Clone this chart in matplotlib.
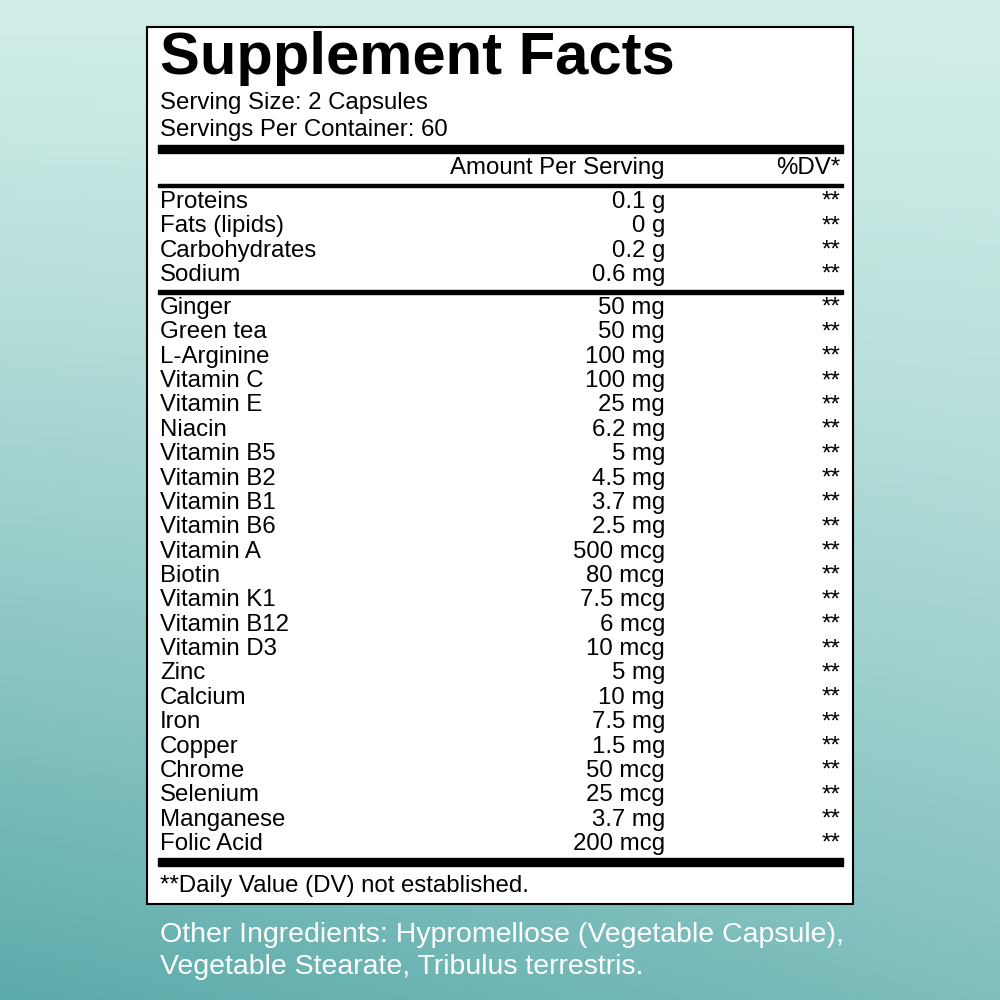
import matplotlib
matplotlib.use("Agg")
import matplotlib.pyplot as plt
import numpy as np

title = "Supplement Facts"
serving = ["Serving Size: 2 Capsules", "Servings Per Container: 60"]
macro_names = ["Proteins", "Fats (lipids)", "Carbohydrates", "Sodium"]
macro_amounts = ["0.1 g", "0 g", "0.2 g", "0.6 mg"]
ing_names = ["Ginger", "Green tea", "L-Arginine", "Vitamin C", "Vitamin E", "Niacin",
             "Vitamin B5", "Vitamin B2", "Vitamin B1", "Vitamin B6", "Vitamin A", "Biotin",
             "Vitamin K1", "Vitamin B12", "Vitamin D3", "Zinc", "Calcium", "Iron", "Copper",
             "Chrome", "Selenium", "Manganese", "Folic Acid"]
ing_amounts = ["50 mg", "50 mg", "100 mg", "100 mg", "25 mg", "6.2 mg", "5 mg", "4.5 mg",
               "3.7 mg", "2.5 mg", "500 mcg", "80 mcg", "7.5 mcg", "6 mcg", "10 mcg", "5 mg",
               "10 mg", "7.5 mg", "1.5 mg", "50 mcg", "25 mcg", "3.7 mg", "200 mcg"]
footnote = "**Daily Value (DV) not established."
other = ["Other Ingredients: Hypromellose (Vegetable Capsule),",
         "Vegetable Stearate, Tribulus terrestris."]

plt.rcParams['font.family'] = ['Liberation Sans', 'DejaVu Sans']
fig = plt.figure(figsize=(10, 10), dpi=100)
ax = fig.add_axes([0, 0, 1, 1])
ax.set_xlim(0, 1000); ax.set_ylim(1000, 0); ax.axis('off')

# background gradient
yy, xx = np.mgrid[0:1:200j, 0:1:200j]
c1 = np.array([0.82, 0.93, 0.91]); c2 = np.array([0.36, 0.67, 0.67])
t = np.clip(0.7 * yy ** 1.3 + 0.3 * (1 - xx) * yy, 0, 1)[..., None]
img = c1 * (1 - t) + c2 * t
ax.imshow(img, extent=[0, 1000, 1000, 0], aspect='auto', zorder=0)

ax.add_patch(plt.Rectangle((147, 27), 706, 877, facecolor='white', edgecolor='black', lw=1.5, zorder=1))

L, R1, R2 = 160, 665, 840
fs = 17.3
ax.text(L, 58, title, fontsize=43, fontweight='bold', va='center', ha='left', zorder=2)
for i, s in enumerate(serving):
    ax.text(L, 103 + 27 * i, s, fontsize=fs, va='center', zorder=2)

def bar(y, h):
    ax.add_patch(plt.Rectangle((158, y - h / 2), 685, h, color='black', zorder=2))

bar(149, 8)
ax.text(R1, 168, "Amount Per Serving", fontsize=fs, va='center', ha='right', zorder=2)
ax.text(R2, 168, "%DV*", fontsize=fs, va='center', ha='right', zorder=2)
bar(185, 3)
for i, (n, a) in enumerate(zip(macro_names, macro_amounts)):
    y = 202 + 24.3 * i
    ax.text(L, y, n, fontsize=fs, va='center', zorder=2)
    ax.text(R1, y, a, fontsize=fs, va='center', ha='right', zorder=2)
    ax.text(R2, y, "**", fontsize=fs, va='center', ha='right', zorder=2)
bar(292, 4)
step = (843 - 307) / 22
for i, (n, a) in enumerate(zip(ing_names, ing_amounts)):
    y = 308 + step * i
    ax.text(L, y, n, fontsize=fs, va='center', zorder=2)
    ax.text(R1, y, a, fontsize=fs, va='center', ha='right', zorder=2)
    ax.text(R2, y, "**", fontsize=fs, va='center', ha='right', zorder=2)
bar(862, 8)
ax.text(L, 886, footnote, fontsize=fs, va='center', zorder=2)
for i, s in enumerate(other):
    ax.text(L, 935 + 32 * i, s, fontsize=20.5, va='center', color='white', zorder=2)

fig.savefig("out.png", dpi=100)
